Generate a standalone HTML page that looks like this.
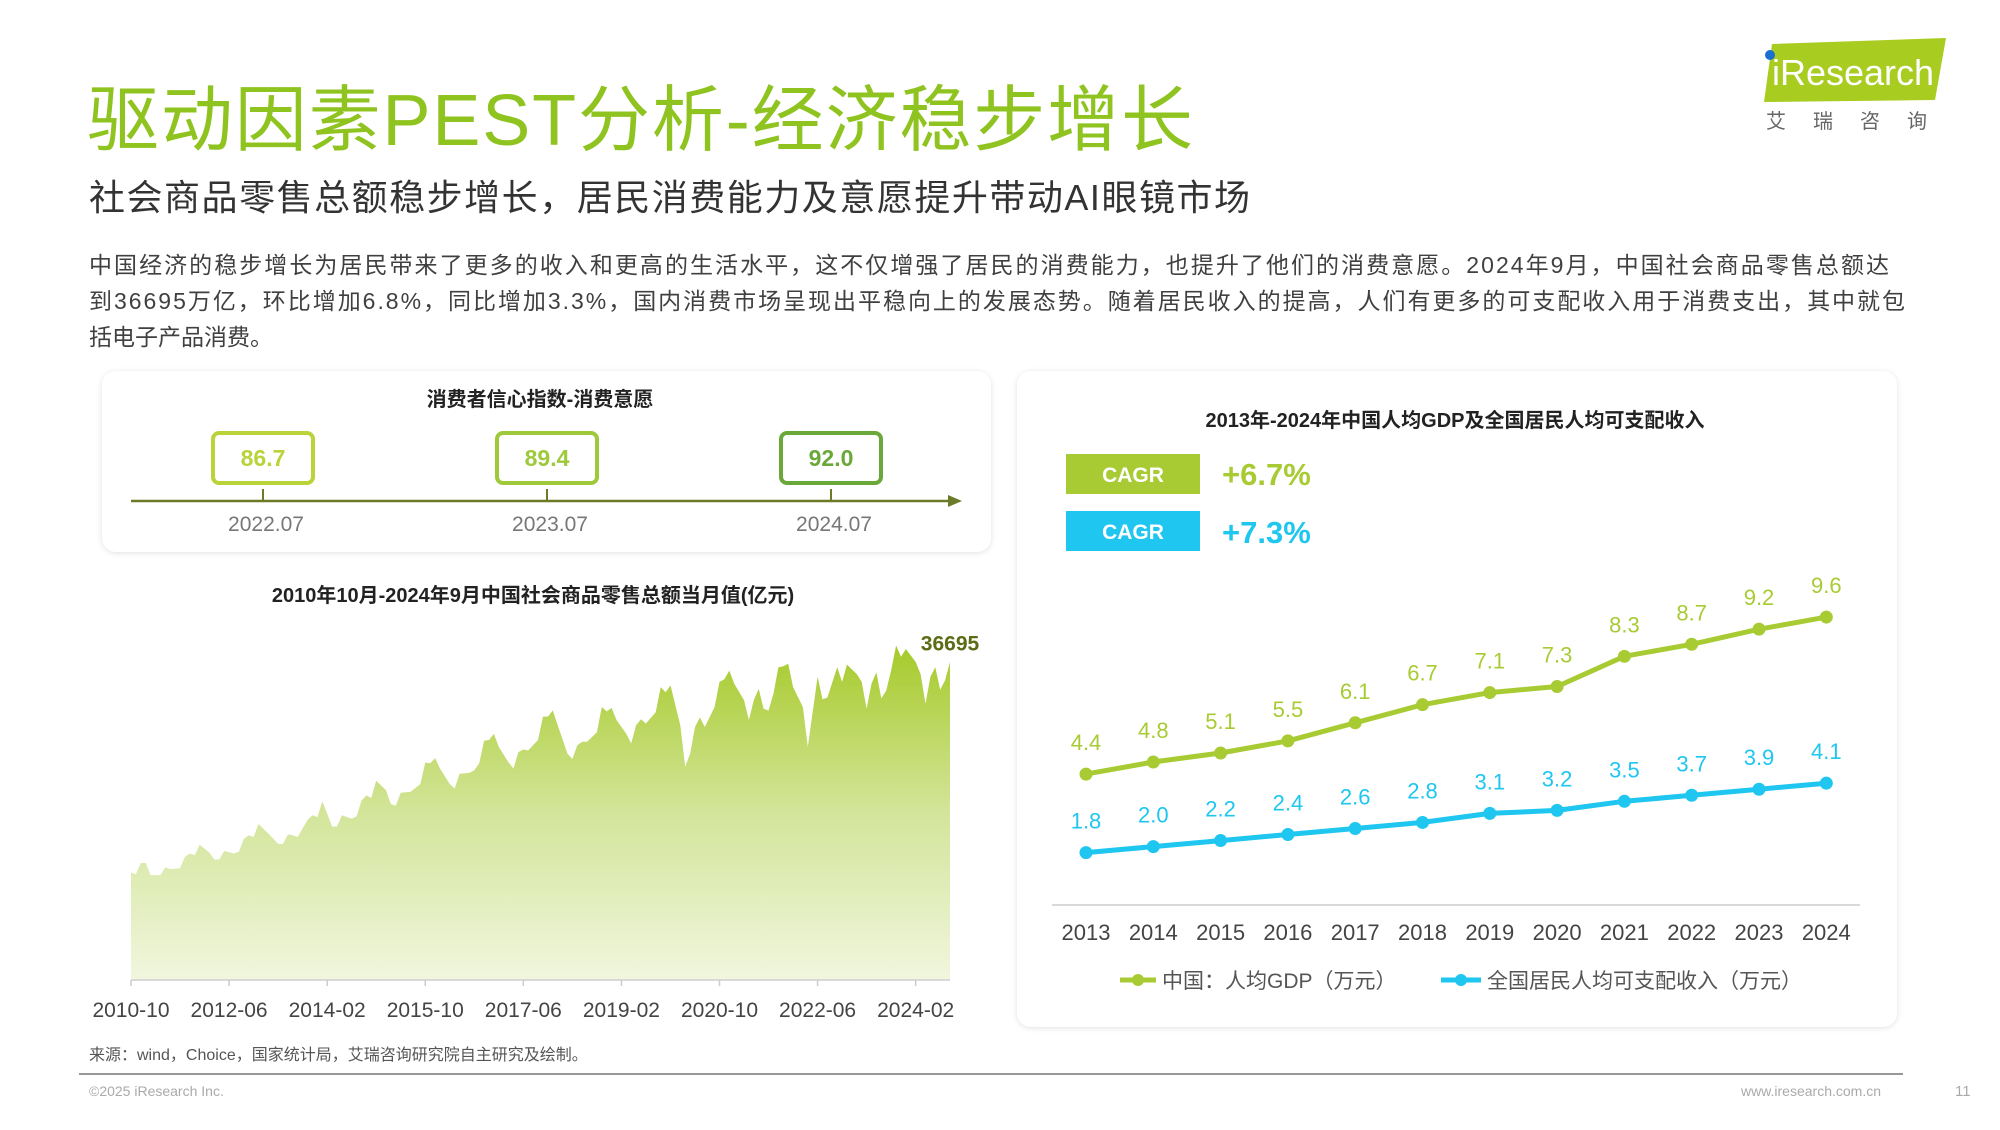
<!DOCTYPE html>
<html><head><meta charset="utf-8">
<style>
html,body{margin:0;padding:0;background:#fff;}
svg text{font-family:"Liberation Sans","Noto Sans CJK SC",sans-serif;}
</style></head>
<body>
<svg id="page" width="2000" height="1125" viewBox="0 0 2000 1125" xmlns="http://www.w3.org/2000/svg">
<defs>
<linearGradient id="areaGrad" x1="0" y1="0" x2="0" y2="1">
<stop offset="0" stop-color="#a6ca2a"/><stop offset="0.5" stop-color="#d3e59a"/><stop offset="1" stop-color="#f1f6de"/>
</linearGradient>
<filter id="sh" x="-5%" y="-5%" width="110%" height="110%"><feDropShadow dx="0" dy="1" stdDeviation="3" flood-color="#000" flood-opacity="0.12"/></filter>
</defs>

<text x="87" y="145" font-size="72" fill="#8fc31f" textLength="1106">驱动因素PEST分析-经济稳步增长</text>
<text x="89" y="210" font-size="36" fill="#333" textLength="1161">社会商品零售总额稳步增长，居民消费能力及意愿提升带动AI眼镜市场</text>
<g font-size="23" fill="#404040">
<text x="89" y="273" textLength="1800">中国经济的稳步增长为居民带来了更多的收入和更高的生活水平，这不仅增强了居民的消费能力，也提升了他们的消费意愿。2024年9月，中国社会商品零售总额达</text>
<text x="89" y="309" textLength="1816">到36695万亿，环比增加6.8%，同比增加3.3%，国内消费市场呈现出平稳向上的发展态势。随着居民收入的提高，人们有更多的可支配收入用于消费支出，其中就包</text>
<text x="89" y="345" textLength="184">括电子产品消费。</text>
</g>

<g>
<polygon points="1772,44 1946,38 1935,100 1764,102" fill="#a8cc1f"/>
<circle cx="1770" cy="55" r="5" fill="#1a6fd0"/>
<text x="1772" y="85" font-size="36" fill="#fff">iResearch</text>
<text x="1766" y="128" font-size="20" fill="#666" letter-spacing="27">艾瑞咨询</text>
</g>

<g>
<rect x="102" y="371" width="889" height="181" rx="14" fill="#fff" filter="url(#sh)"/>
<text x="540" y="406" font-size="20" font-weight="bold" fill="#222" text-anchor="middle">消费者信心指数-消费意愿</text>
<line x1="131" y1="501" x2="952" y2="501" stroke="#6b7b28" stroke-width="2.5"/>
<polygon points="962,501 948,495 948,507" fill="#6b7b28"/>
<g id="conf"></g>
</g>

<text x="533" y="602" font-size="20" font-weight="bold" fill="#222" text-anchor="middle">2010年10月-2024年9月中国社会商品零售总额当月值(亿元)</text>
<g id="area"></g>

<g>
<rect x="1017" y="371" width="880" height="656" rx="14" fill="#fff" filter="url(#sh)"/>
<text x="1455" y="427" font-size="20" font-weight="bold" fill="#222" text-anchor="middle">2013年-2024年中国人均GDP及全国居民人均可支配收入</text>
<rect x="1066" y="454" width="134" height="40" fill="#a8cb34"/>
<text x="1133" y="482" font-size="21" font-weight="bold" fill="#fff" text-anchor="middle">CAGR</text>
<text x="1222" y="485" font-size="31" font-weight="bold" fill="#a8cb34">+6.7%</text>
<rect x="1066" y="511" width="134" height="40" fill="#1ec6f0"/>
<text x="1133" y="539" font-size="21" font-weight="bold" fill="#fff" text-anchor="middle">CAGR</text>
<text x="1222" y="543" font-size="31" font-weight="bold" fill="#1ec6f0">+7.3%</text>
<line x1="1052" y1="905" x2="1860" y2="905" stroke="#d9d9d9" stroke-width="2"/>
<g id="lines"></g>
<g>
<line x1="1120" y1="980" x2="1156" y2="980" stroke="#a8cb34" stroke-width="5"/><circle cx="1138" cy="980" r="6" fill="#a8cb34"/>
<text x="1162" y="988" font-size="21" fill="#555">中国：人均GDP（万元）</text>
</g>
<g>
<line x1="1441" y1="980" x2="1481" y2="980" stroke="#1ec6f0" stroke-width="5"/><circle cx="1461" cy="980" r="6" fill="#1ec6f0"/>
<text x="1487" y="988" font-size="21" fill="#555">全国居民人均可支配收入（万元）</text>
</g>
</g>

<text x="89" y="1060" font-size="16" fill="#555">来源：wind，Choice，国家统计局，艾瑞咨询研究院自主研究及绘制。</text>
<line x1="79" y1="1074" x2="1903" y2="1074" stroke="#777" stroke-width="1.5"/>
<text x="89" y="1096" font-size="14" fill="#aaa">©2025 iResearch Inc.</text>
<text x="1881" y="1096" font-size="14" fill="#aaa" text-anchor="end">www.iresearch.com.cn</text>
<text x="1955" y="1096" font-size="15" fill="#aaa">11</text>
</svg>

<script>
const NS="http://www.w3.org/2000/svg";
function mk(tag,attrs,parent){const e=document.createElementNS(NS,tag);for(const k in attrs)e.setAttribute(k,attrs[k]);parent.appendChild(e);return e;}

const confPeriods=["2022.07","2023.07","2024.07"];
const confValues=[86.7,89.4,92.0];
const confColors=["#b8d43a","#9dc93a","#6aa83a"];

const retailMonths=[0,1,2,3,4,6,7,8,10,11,12,13,14,16,17,18,19,21,22,23,24,25,26,28,30,31,32,33,34,36,37,38,39,40,41,42,43,45,46,47,48,49,50,52,53,54,55,57,59,60,61,62,63,65,66,67,69,70,71,72,73,74,75,77,78,79,80,81,83,84,85,86,87,89,90,91,92,93,95,96,97,98,99,101,102,103,104,105,107,108,109,110,112,113,114,115,116,117,119,120,121,122,123,125,126,127,128,129,130,131,132,133,134,135,137,138,140,141,142,144,145,146,148,149,150,151,152,153,154,155,156,157,158,160,161,162,163,164,165,166,167];
const retailValues=[12400,12200,13500,13500,12100,12100,13000,12800,12900,14200,14600,14400,15600,14700,13900,13900,14900,14600,14800,16300,16700,16500,18000,16900,15700,15700,16800,16700,16500,18500,19000,18800,20600,19200,17700,17700,19000,18600,18900,20700,21300,21000,23000,21900,20300,20100,21600,21700,22600,25100,25000,25600,24400,22600,22100,23800,23900,24200,25000,27600,27700,28400,26900,25100,24400,26300,26600,26500,27700,30400,30400,31100,29400,26100,25500,27100,27500,27500,28600,31500,31000,31400,30000,28400,27300,29400,30100,29600,30900,33800,33200,34000,29400,24600,26100,29200,30300,29200,31500,34400,34700,35700,34200,32300,30000,32300,33600,31300,31100,33000,36100,36200,36500,33800,31500,26900,35000,32400,32600,36100,34400,36400,35300,34400,31300,34200,35500,32500,33400,35700,38600,37300,38200,36700,35300,31900,35000,36100,33500,34600,36695];
const retailTickLabels=["2010-10","2012-06","2014-02","2015-10","2017-06","2019-02","2020-10","2022-06","2024-02"];
const retailTickMonths=[0,20,40,60,80,100,120,140,160];
const retailLastLabel="36695";

const years=["2013","2014","2015","2016","2017","2018","2019","2020","2021","2022","2023","2024"];
const gdp=[4.4,4.8,5.1,5.5,6.1,6.7,7.1,7.3,8.3,8.7,9.2,9.6];
const income=[1.8,2.0,2.2,2.4,2.6,2.8,3.1,3.2,3.5,3.7,3.9,4.1];

(function(){
  const g=document.getElementById('conf');
  const cx=i=>263+i*284;
  confValues.forEach((v,i)=>{
    const b=mk('rect',{x:cx(i)-50,y:433,width:100,height:50,rx:6,fill:'#fff',stroke:confColors[i],'stroke-width':4},g);
    
    
    const t=mk('text',{x:cx(i),y:466,'font-size':23,'font-weight':'bold',fill:confColors[i],'text-anchor':'middle'},g);
    t.textContent=v.toFixed(1);
    
    
    const tk=mk('line',{x1:cx(i),y1:489,x2:cx(i),y2:501,stroke:'#6b7b28','stroke-width':2},g);
    
    
    const l=mk('text',{x:cx(i)+3,y:531,'font-size':21,fill:'#777','text-anchor':'middle'},g);
    l.textContent=confPeriods[i];
    
    
  });
})();

(function(){
  const g=document.getElementById('area');
  const x0=131,x1=950,y0=980,maxM=167;
  const xs=m=>x0+(x1-x0)*m/maxM;
  const ys=v=>y0-v/36695*318;
  let d='M'+xs(retailMonths[0])+','+y0;
  retailMonths.forEach((m,i)=>{d+=' L'+xs(m).toFixed(1)+','+ys(retailValues[i]).toFixed(1);});
  d+=' L'+xs(retailMonths[retailMonths.length-1])+','+y0+' Z';
  const p=mk('path',{d:d,fill:'url(#areaGrad)'},g);
  
  
  const ax=mk('line',{x1:x0,y1:y0,x2:x1,y2:y0,stroke:'#d9d9d9','stroke-width':2},g);
  
  
  retailTickMonths.forEach((m,i)=>{
    const tk=mk('line',{x1:xs(m),y1:y0,x2:xs(m),y2:y0+6,stroke:'#ccc','stroke-width':1.5},g);
    
    
    const t=mk('text',{x:xs(m),y:1017,'font-size':21,fill:'#444','text-anchor':'middle'},g);
    t.textContent=retailTickLabels[i];
    
    
  });
  const last=retailValues.length-1;
  const lb=mk('text',{x:xs(retailMonths[last]),y:ys(38600)+5,'font-size':21,'font-weight':'bold',fill:'#5a6c14','text-anchor':'middle'},g);
  lb.textContent=retailLastLabel;
  
  
})();

(function(){
  const g=document.getElementById('lines');
  const xs=i=>1086+i*67.3;
  const ys=v=>907-v*30.2;
  const series=[[gdp,'#a8cb34','gdp'],[income,'#1ec6f0','income']];
  series.forEach(([vals,c,nm])=>{
    const pts=vals.map((v,i)=>xs(i).toFixed(1)+','+ys(v).toFixed(1)).join(' ');
    const pl=mk('polyline',{points:pts,fill:'none',stroke:c,'stroke-width':5,'stroke-linejoin':'round'},g);
    
    
    vals.forEach((v,i)=>{
      const ci=mk('circle',{cx:xs(i),cy:ys(v),r:6.5,fill:c},g);
      
      
      const t=mk('text',{x:xs(i),y:ys(v)-24,'font-size':22,fill:c,'text-anchor':'middle'},g);
      t.textContent=v.toFixed(1);
      
      
    });
  });
  years.forEach((y,i)=>{
    const t=mk('text',{x:xs(i),y:940,'font-size':22,fill:'#444','text-anchor':'middle'},g);
    t.textContent=y;
    
    
  });
})();
</script>
</body></html>
